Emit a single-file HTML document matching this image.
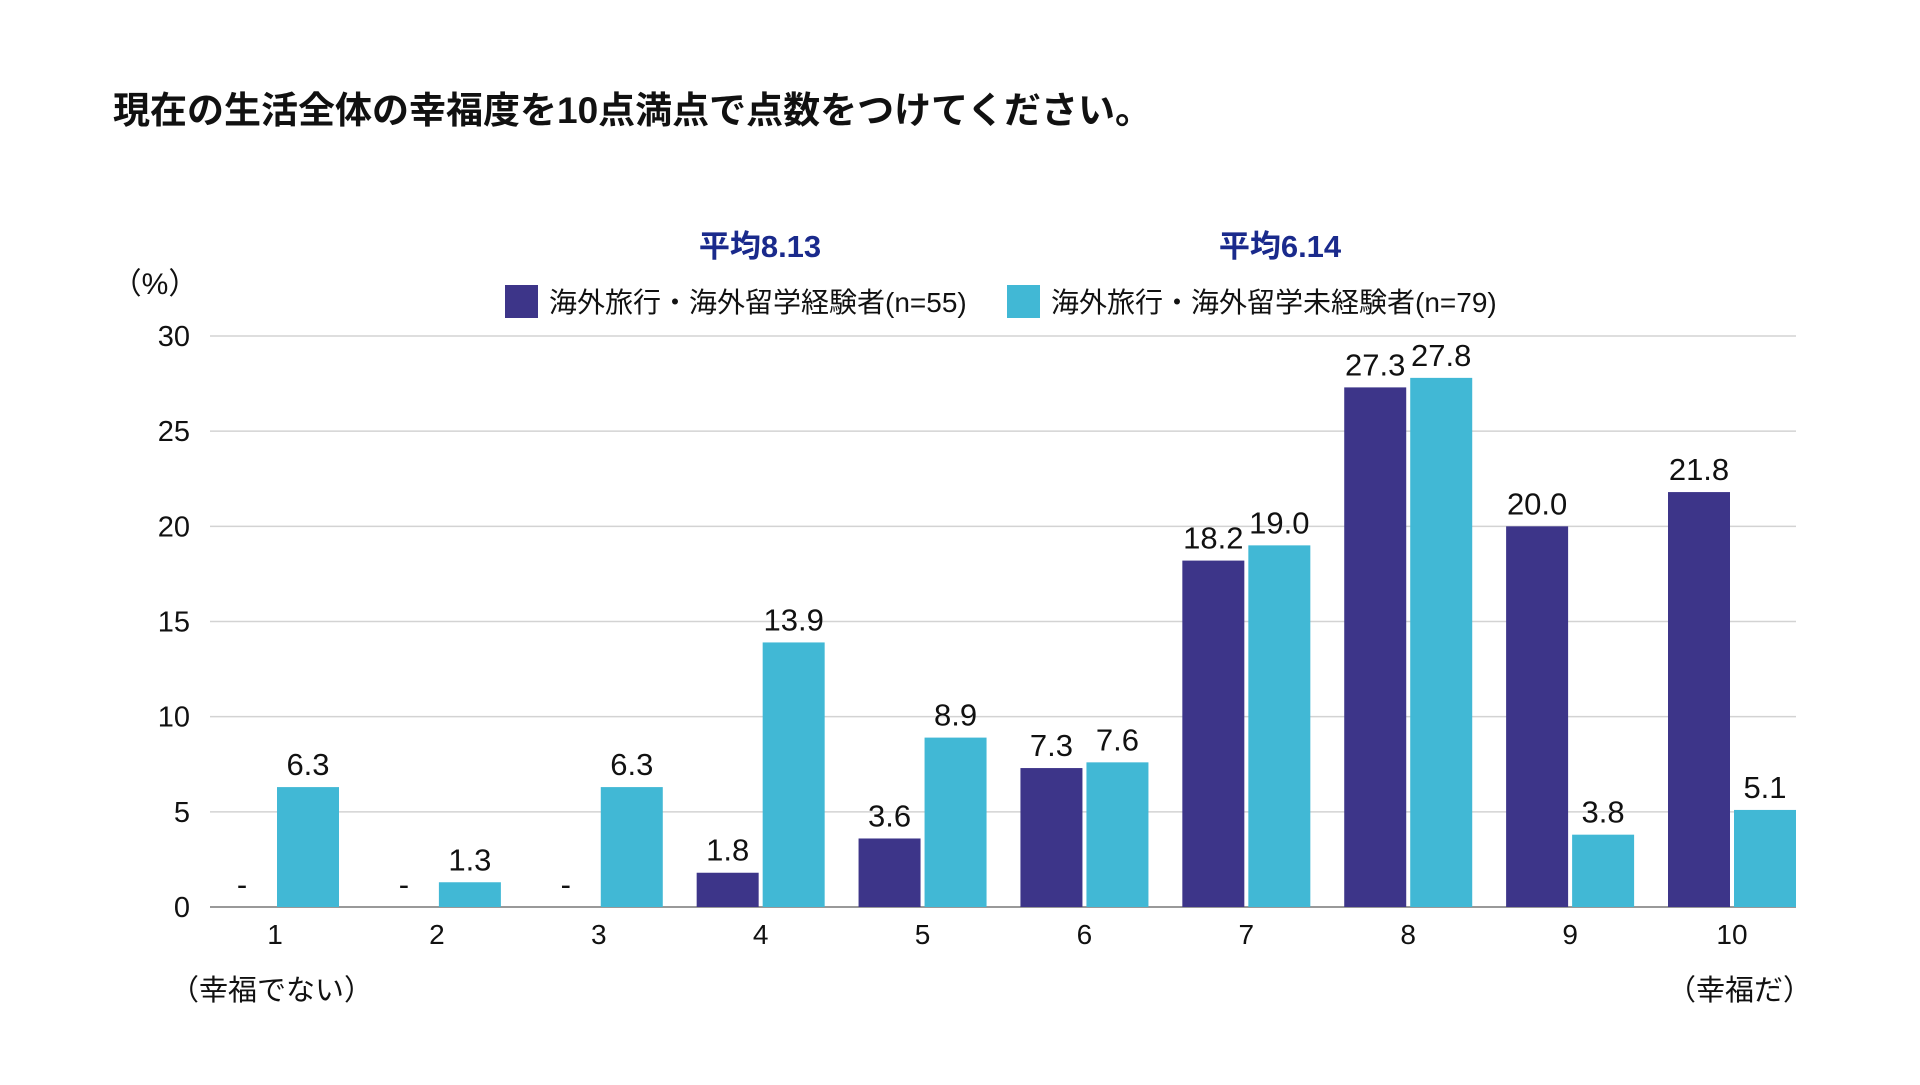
<!DOCTYPE html>
<html><head><meta charset="utf-8"><style>
body{margin:0;background:#fff;}
svg text{font-family:"Liberation Sans","Noto Sans CJK JP",sans-serif;}
</style></head><body>
<svg width="1920" height="1080" xmlns="http://www.w3.org/2000/svg">
<text x="113" y="123" font-size="37" font-weight="bold" fill="#111">現在の生活全体の幸福度を10点満点で点数をつけてください。</text>
<text x="760" y="257" font-size="31" font-weight="bold" fill="#1a2a8c" text-anchor="middle">平均8.13</text>
<text x="1280" y="257" font-size="31" font-weight="bold" fill="#1a2a8c" text-anchor="middle">平均6.14</text>
<text x="155" y="294" font-size="30" fill="#111" text-anchor="middle">（%）</text>
<g>
<rect x="505" y="285" width="33" height="33" fill="#3d3589"/>
<text x="549" y="312" font-size="28" fill="#111">海外旅行・海外留学経験者(n=55)</text>
<rect x="1007" y="285" width="33" height="33" fill="#41b8d5"/>
<text x="1051" y="312" font-size="28" fill="#111">海外旅行・海外留学未経験者(n=79)</text>
</g>
<g id="grid"></g><g id="bars"></g>
<text x="170" y="1000" font-size="29" fill="#111">（幸福でない）</text>
<text x="1812" y="1000" font-size="29" fill="#111" text-anchor="end">（幸福だ）</text>
</svg>
<script>
const categories=["1","2","3","4","5","6","7","8","9","10"];
const experienced=[null,null,null,1.8,3.6,7.3,18.2,27.3,20.0,21.8];
const inexperienced=[6.3,1.3,6.3,13.9,8.9,7.6,19.0,27.8,3.8,5.1];
const yTicks=[0,5,10,15,20,25,30];
const NS="http://www.w3.org/2000/svg";
const base=907,top0=336,yMax=30,left=210,right=1796;
const y=v=>base-(v/yMax)*(base-top0);
const firstRight=339,step=(1796-339)/9,bw=62,gap=4;
const cyanRight=i=>firstRight+step*i;
function mk(t,a,p){const e=document.createElementNS(NS,t);for(const k in a)e.setAttribute(k,a[k]);p.appendChild(e);return e;}
const grid=document.getElementById('grid'),bars=document.getElementById('bars');
yTicks.forEach(t=>{
 const l=mk('line',{x1:left,x2:right,y1:y(t),y2:y(t),stroke:t===0?'#999':'#d3d3d3','stroke-width':t===0?2:1.5},grid);
 
 
 const tx=mk('text',{x:190,y:y(t)+10,'font-size':29,fill:'#111','text-anchor':'end'},grid);
 tx.textContent=t;
 
 
});
categories.forEach((c,i)=>{
 const cr=cyanRight(i),cl=cr-bw,nr=cl-gap,nl=nr-bw;
 const ev=experienced[i],iv=inexperienced[i];
 if(ev!==null){
  const r=mk('rect',{x:nl,y:y(ev),width:bw,height:base-y(ev),fill:'#3d3589'},bars);
  
  
 }
 const lt=mk('text',{x:nl+bw/2,y:(ev!==null?y(ev):base)-12,'font-size':31,fill:'#111','text-anchor':'middle'},bars);
 lt.textContent=ev!==null?ev.toFixed(1):'-';
 
 
 const r2=mk('rect',{x:cl,y:y(iv),width:bw,height:base-y(iv),fill:'#41b8d5'},bars);
 
 
 const lt2=mk('text',{x:cl+bw/2,y:y(iv)-12,'font-size':31,fill:'#111','text-anchor':'middle'},bars);
 lt2.textContent=iv.toFixed(1);
 
 
 const cx=mk('text',{x:cl-gap/2,y:944,'font-size':28,fill:'#111','text-anchor':'middle'},bars);
 cx.textContent=c;
 
 
});
</script>
</body></html>
